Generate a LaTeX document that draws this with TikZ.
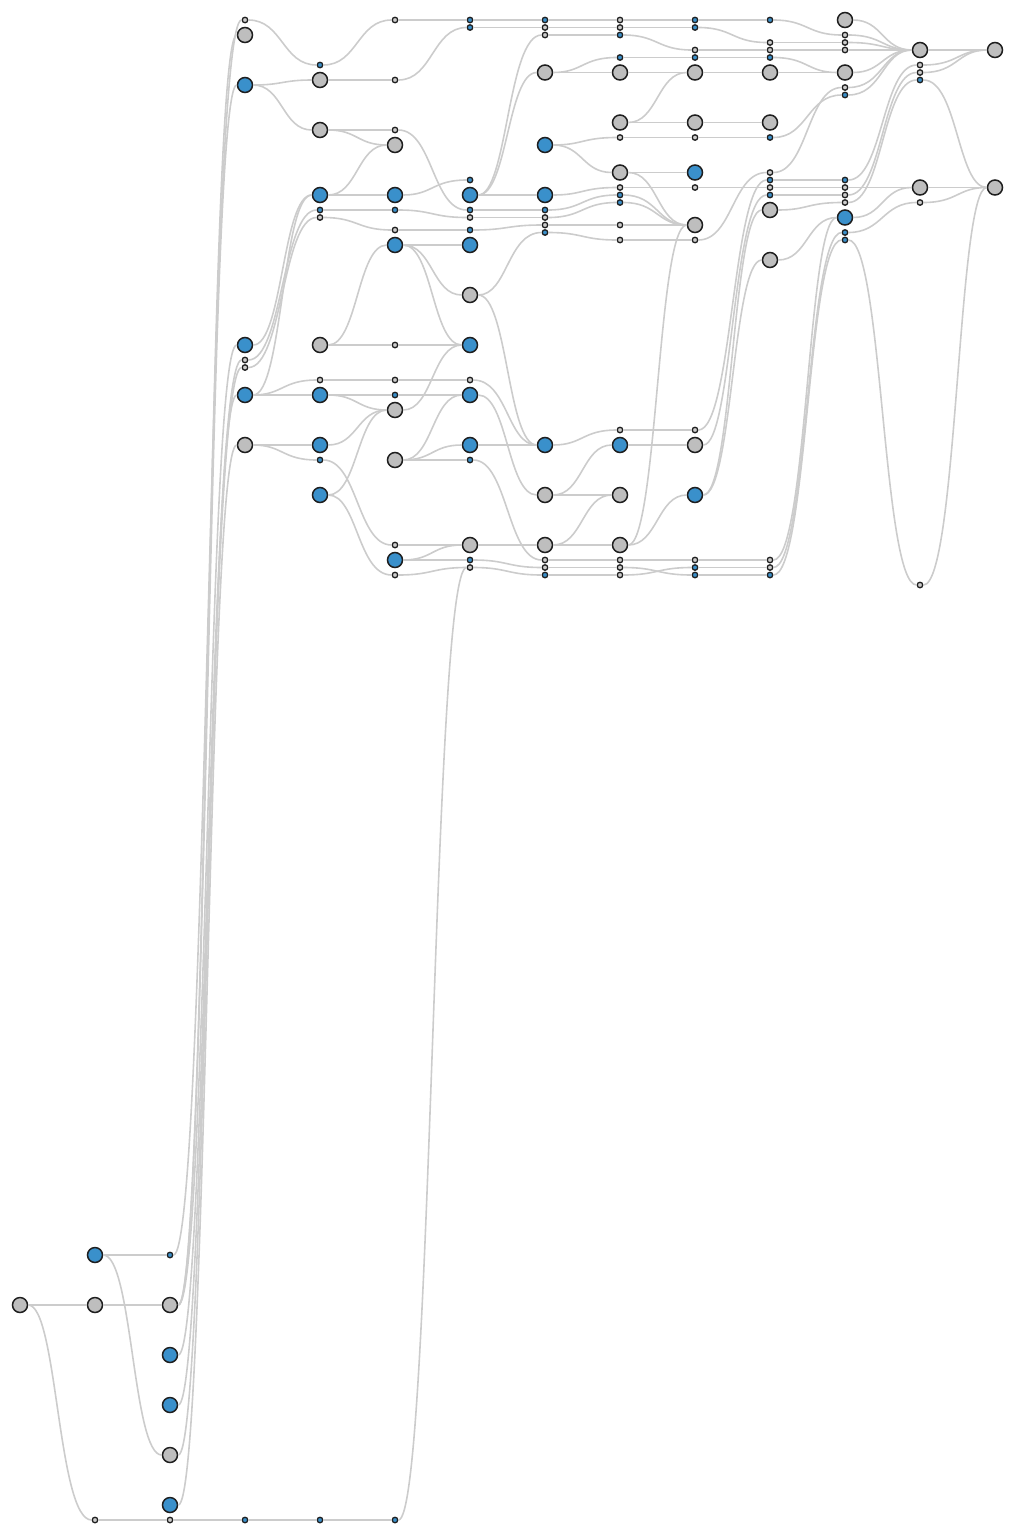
\documentclass[tikz,border=0pt]{standalone}
\definecolor{nblue}{RGB}{58,144,203}
\definecolor{ngray}{RGB}{190,190,190}
\definecolor{sgray}{RGB}{205,205,205}
\definecolor{lgray}{RGB}{204,204,204}
\definecolor{outl}{RGB}{30,30,30}
\tikzset{
 nodebase/.style={circle,draw=outl,inner sep=0pt},
 BG/.style={nodebase,fill=ngray,minimum size=15pt,line width=1.5pt},
 BB/.style={nodebase,fill=nblue,minimum size=15pt,line width=1.5pt},
 SG/.style={nodebase,fill=sgray,minimum size=5.5pt,line width=1.3pt},
 SB/.style={nodebase,fill=nblue,minimum size=5.5pt,line width=1.3pt},
 lnk/.style={draw=lgray,line width=1.6pt}
}
\newcommand\N[4]{\node[#1] (c#2r#3) at ({20+75*#2},#4) {};}
\newcommand\E[4]{\draw[lnk] (c#1r#2) .. controls +(37.5,0) and +(-37.5,0) .. (c#3r#4);}
\begin{document}
\begin{tikzpicture}[x=1pt,y=-1pt]
\useasboundingbox (0,0) rectangle (1015,1540);
% C0
\N{BG}{0}{1305}{1305}
% C1
\N{BB}{1}{1255}{1255}\N{BG}{1}{1305}{1305}\N{SG}{1}{1520}{1520}
% C2
\N{SB}{2}{1255}{1255}\N{BG}{2}{1305}{1305}\N{BB}{2}{1355}{1355}\N{BB}{2}{1405}{1405}
\N{BG}{2}{1455}{1455}\N{BB}{2}{1505}{1505}\N{SG}{2}{1520}{1520}
% C3
\N{SG}{3}{20}{20}\N{BG}{3}{35}{35}\N{BB}{3}{85}{85}\N{BB}{3}{345}{345}\N{SG}{3}{360}{360}
\N{SG}{3}{367}{367.5}\N{BB}{3}{395}{395}\N{BG}{3}{445}{445}\N{SB}{3}{1520}{1520}
% C4
\N{SB}{4}{65}{65}\N{BG}{4}{80}{80}\N{BG}{4}{130}{130}\N{BB}{4}{195}{195}\N{SB}{4}{210}{210}
\N{SG}{4}{217}{217.5}\N{BG}{4}{345}{345}\N{SG}{4}{380}{380}\N{BB}{4}{395}{395}\N{BB}{4}{445}{445}
\N{SB}{4}{460}{460}\N{BB}{4}{495}{495}\N{SB}{4}{1520}{1520}
% C5
\N{SG}{5}{20}{20}\N{SG}{5}{80}{80}\N{SG}{5}{130}{130}\N{BG}{5}{145}{145}\N{BB}{5}{195}{195}
\N{SB}{5}{210}{210}\N{SG}{5}{230}{230}\N{BB}{5}{245}{245}\N{SG}{5}{345}{345}\N{SG}{5}{380}{380}
\N{SB}{5}{395}{395}\N{BG}{5}{410}{410}\N{BG}{5}{460}{460}\N{SG}{5}{545}{545}\N{BB}{5}{560}{560}
\N{SG}{5}{575}{575}\N{SB}{5}{1520}{1520}
% C6
\N{SB}{6}{20}{20}\N{SB}{6}{27}{27.5}\N{SB}{6}{180}{180}\N{BB}{6}{195}{195}\N{SB}{6}{210}{210}
\N{SG}{6}{217}{217.5}\N{SB}{6}{230}{230}\N{BB}{6}{245}{245}\N{BG}{6}{295}{295}\N{BB}{6}{345}{345}
\N{SG}{6}{380}{380}\N{BB}{6}{395}{395}\N{BB}{6}{445}{445}\N{SB}{6}{460}{460}\N{BG}{6}{545}{545}
\N{SB}{6}{560}{560}\N{SG}{6}{567}{567.5}
% C7
\N{SB}{7}{20}{20}\N{SG}{7}{27}{27.5}\N{SG}{7}{35}{35}\N{BG}{7}{72}{72.5}\N{BB}{7}{145}{145}
\N{BB}{7}{195}{195}\N{SB}{7}{210}{210}\N{SG}{7}{217}{217.5}\N{SG}{7}{225}{225}\N{SB}{7}{232}{232.5}
\N{BB}{7}{445}{445}\N{BG}{7}{495}{495}\N{BG}{7}{545}{545}\N{SG}{7}{560}{560}\N{SG}{7}{567}{567.5}
\N{SB}{7}{575}{575}
% C8
\N{SG}{8}{20}{20}\N{SG}{8}{27}{27.5}\N{SB}{8}{35}{35}\N{SB}{8}{57}{57.5}\N{BG}{8}{72}{72.5}
\N{BG}{8}{122}{122.5}\N{SG}{8}{137}{137.5}\N{BG}{8}{172}{172.5}\N{SG}{8}{187}{187.5}\N{SB}{8}{195}{195}
\N{SB}{8}{202}{202.5}\N{SG}{8}{225}{225}\N{SG}{8}{240}{240}\N{SG}{8}{430}{430}\N{BB}{8}{445}{445}
\N{BG}{8}{495}{495}\N{BG}{8}{545}{545}\N{SG}{8}{560}{560}\N{SG}{8}{567}{567.5}\N{SG}{8}{575}{575}
% C9
\N{SB}{9}{20}{20}\N{SB}{9}{27}{27.5}\N{SG}{9}{50}{50}\N{SB}{9}{57}{57.5}\N{BG}{9}{72}{72.5}
\N{BG}{9}{122}{122.5}\N{SG}{9}{137}{137.5}\N{BB}{9}{172}{172.5}\N{SG}{9}{187}{187.5}\N{BG}{9}{225}{225}
\N{SG}{9}{240}{240}\N{SG}{9}{430}{430}\N{BG}{9}{445}{445}\N{BB}{9}{495}{495}\N{SG}{9}{560}{560}
\N{SB}{9}{567}{567.5}\N{SB}{9}{575}{575}
% C10
\N{SB}{10}{20}{20}\N{SG}{10}{42}{42.5}\N{SG}{10}{50}{50}\N{SB}{10}{57}{57.5}\N{BG}{10}{72}{72.5}
\N{BG}{10}{122}{122.5}\N{SB}{10}{137}{137.5}\N{SG}{10}{172}{172.5}\N{SB}{10}{180}{180}\N{SG}{10}{187}{187.5}
\N{SB}{10}{195}{195}\N{BG}{10}{210}{210}\N{BG}{10}{260}{260}\N{SG}{10}{560}{560}\N{SG}{10}{567}{567.5}
\N{SB}{10}{575}{575}
% C11
\N{BG}{11}{20}{20}\N{SG}{11}{35}{35}\N{SG}{11}{42}{42.5}\N{SG}{11}{50}{50}\N{BG}{11}{72}{72.5}
\N{SG}{11}{87}{87.5}\N{SB}{11}{95}{95}\N{SB}{11}{180}{180}\N{SG}{11}{187}{187.5}\N{SG}{11}{195}{195}
\N{SG}{11}{202}{202.5}\N{BB}{11}{217}{217.5}\N{SB}{11}{232}{232.5}\N{SB}{11}{240}{240}
% C12
\N{BG}{12}{50}{50}\N{SG}{12}{65}{65}\N{SG}{12}{72}{72.5}\N{SB}{12}{80}{80}\N{BG}{12}{187}{187.5}
\N{SG}{12}{202}{202.5}\N{SG}{12}{585}{585}
% C13
\N{BG}{13}{50}{50}\N{BG}{13}{187}{187.5}
% ---- edges
\E{0}{1305}{1}{1305}\E{0}{1305}{1}{1520}
\E{1}{1255}{2}{1255}\E{1}{1255}{2}{1455}\E{1}{1305}{2}{1305}\E{1}{1520}{2}{1520}
\E{2}{1255}{3}{20}\E{2}{1305}{3}{35}\E{2}{1305}{3}{85}\E{2}{1305}{3}{345}
\E{2}{1355}{3}{360}\E{2}{1405}{3}{367}\E{2}{1455}{3}{395}\E{2}{1505}{3}{445}\E{2}{1520}{3}{1520}
\E{3}{20}{4}{65}\E{3}{85}{4}{80}\E{3}{85}{4}{130}\E{3}{345}{4}{195}\E{3}{360}{4}{210}
\E{3}{367}{4}{217}\E{3}{395}{4}{195}\E{3}{395}{4}{380}\E{3}{395}{4}{395}\E{3}{445}{4}{445}
\E{3}{445}{4}{460}\E{3}{1520}{4}{1520}
\E{4}{65}{5}{20}\E{4}{80}{5}{80}\E{4}{130}{5}{130}\E{4}{130}{5}{145}\E{4}{195}{5}{195}
\E{4}{195}{5}{145}\E{4}{210}{5}{210}\E{4}{217}{5}{230}\E{4}{345}{5}{345}\E{4}{345}{5}{245}
\E{4}{380}{5}{380}\E{4}{395}{5}{395}\E{4}{395}{5}{410}\E{4}{445}{5}{410}\E{4}{460}{5}{545}
\E{4}{495}{5}{410}\E{4}{495}{5}{575}\E{4}{1520}{5}{1520}
\E{5}{20}{6}{20}\E{5}{80}{6}{27}\E{5}{130}{6}{210}\E{5}{195}{6}{180}\E{5}{210}{6}{217}
\E{5}{230}{6}{230}\E{5}{245}{6}{245}\E{5}{245}{6}{295}\E{5}{245}{6}{345}\E{5}{345}{6}{345}
\E{5}{380}{6}{380}\E{5}{395}{6}{395}\E{5}{410}{6}{345}\E{5}{460}{6}{395}\E{5}{460}{6}{445}
\E{5}{460}{6}{460}\E{5}{545}{6}{545}\E{5}{560}{6}{545}\E{5}{560}{6}{560}\E{5}{575}{6}{567}
\E{5}{1520}{6}{567}
\E{6}{20}{7}{20}\E{6}{27}{7}{27}\E{6}{195}{7}{195}\E{6}{195}{7}{72}\E{6}{195}{7}{35}
\E{6}{210}{7}{210}\E{6}{217}{7}{217}\E{6}{230}{7}{225}\E{6}{295}{7}{232}\E{6}{295}{7}{445}
\E{6}{380}{7}{445}\E{6}{395}{7}{495}\E{6}{445}{7}{445}\E{6}{460}{7}{560}\E{6}{545}{7}{545}
\E{6}{560}{7}{567}\E{6}{567}{7}{575}
\E{7}{20}{8}{20}\E{7}{27}{8}{27}\E{7}{35}{8}{35}\E{7}{72}{8}{72}\E{7}{72}{8}{57}
\E{7}{145}{8}{137}\E{7}{145}{8}{172}\E{7}{195}{8}{187}\E{7}{210}{8}{195}\E{7}{217}{8}{202}
\E{7}{225}{8}{225}\E{7}{232}{8}{240}\E{7}{445}{8}{430}\E{7}{495}{8}{445}\E{7}{495}{8}{495}
\E{7}{545}{8}{495}\E{7}{545}{8}{545}\E{7}{560}{8}{560}\E{7}{567}{8}{567}\E{7}{575}{8}{575}
\E{8}{20}{9}{20}\E{8}{27}{9}{27}\E{8}{35}{9}{50}\E{8}{57}{9}{57}\E{8}{72}{9}{72}
\E{8}{122}{9}{72}\E{8}{122}{9}{122}\E{8}{137}{9}{137}\E{8}{172}{9}{172}\E{8}{172}{9}{225}
\E{8}{187}{9}{187}\E{8}{195}{9}{225}\E{8}{202}{9}{225}\E{8}{225}{9}{225}\E{8}{240}{9}{240}
\E{8}{430}{9}{430}\E{8}{445}{9}{445}\E{8}{545}{9}{495}\E{8}{545}{9}{225}\E{8}{560}{9}{560}
\E{8}{567}{9}{575}\E{8}{575}{9}{567}
\E{9}{20}{10}{20}\E{9}{27}{10}{42}\E{9}{50}{10}{50}\E{9}{57}{10}{57}\E{9}{72}{10}{72}
\E{9}{122}{10}{122}\E{9}{137}{10}{137}\E{9}{187}{10}{187}\E{9}{240}{10}{172}\E{9}{430}{10}{180}
\E{9}{445}{10}{195}\E{9}{495}{10}{210}\E{9}{495}{10}{260}\E{9}{560}{10}{560}\E{9}{567}{10}{567}
\E{9}{575}{10}{575}
\E{10}{20}{11}{35}\E{10}{42}{11}{42}\E{10}{50}{11}{50}\E{10}{57}{11}{72}\E{10}{72}{11}{72}
\E{10}{137}{11}{95}\E{10}{172}{11}{87}\E{10}{180}{11}{180}\E{10}{187}{11}{187}\E{10}{195}{11}{195}
\E{10}{210}{11}{202}\E{10}{260}{11}{217}\E{10}{560}{11}{217}\E{10}{567}{11}{232}\E{10}{575}{11}{240}
\E{11}{20}{12}{50}\E{11}{35}{12}{50}\E{11}{42}{12}{50}\E{11}{50}{12}{50}\E{11}{72}{12}{50}
\E{11}{87}{12}{50}\E{11}{95}{12}{50}\E{11}{180}{12}{65}\E{11}{195}{12}{72}\E{11}{202}{12}{80}
\E{11}{187}{12}{187}\E{11}{217}{12}{187}\E{11}{232}{12}{202}\E{11}{240}{12}{585}
\E{12}{50}{13}{50}\E{12}{65}{13}{50}\E{12}{72}{13}{50}\E{12}{80}{13}{187}\E{12}{187}{13}{187}
\E{12}{202}{13}{187}\E{12}{585}{13}{187}
\end{tikzpicture}
\end{document}
